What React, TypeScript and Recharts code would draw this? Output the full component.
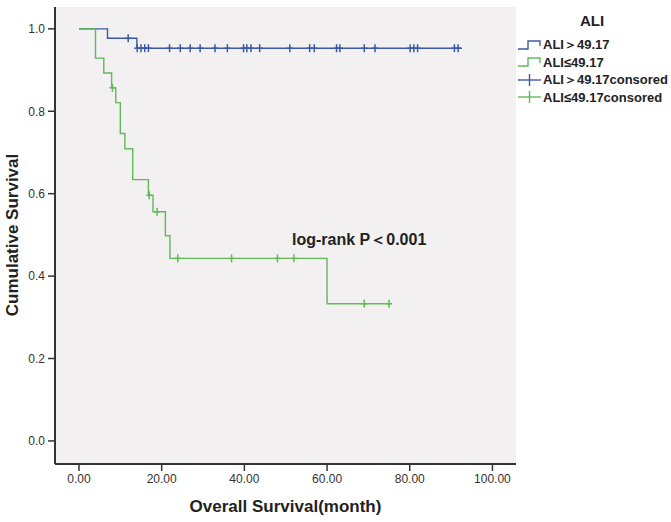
import React from 'react'
import {
  ComposedChart,
  Line,
  Scatter,
  XAxis,
  YAxis,
  CartesianGrid,
} from 'recharts'

// Kaplan-Meier steps (month, cumulative survival)
const highTimes = [0, 6.9, 14.0, 92.6]
const highSurv = [1.0, 0.977, 0.953, 0.953]
const highCensored = [
  11.9, 14.1, 15.0, 15.9, 16.8, 21.9, 24.5, 26.9, 29.3, 32.9, 35.9, 39.8, 40.6,
  41.6, 43.7, 51.0, 55.8, 56.9, 62.3, 63.1, 69.0, 71.6, 80.1, 81.0, 81.9, 90.8, 91.7,
]

const lowTimes = [0, 4.0, 6.0, 7.9, 8.9, 10.0, 11.1, 13.0, 16.8, 17.9, 20.9, 22.0, 60.0, 75.5]
const lowSurv = [1.0, 0.929, 0.893, 0.857, 0.821, 0.746, 0.709, 0.634, 0.596, 0.556, 0.498, 0.443, 0.333, 0.333]
const lowCensored = [8.1, 17.0, 18.9, 23.9, 36.9, 48.0, 52.0, 69.0, 75.0]

const xTicks = [0, 20, 40, 60, 80, 100]
const yTicks = [0, 0.2, 0.4, 0.6, 0.8, 1.0]

const legendLabels = ['ALI＞49.17', 'ALI≤49.17', 'ALI＞49.17consored', 'ALI≤49.17consored']

const BLUE = '#3b59a6'
const GREEN = '#62b95a'
const FRAME = '#333'
const FONT = '"Liberation Sans", Arial, sans-serif'

const toPoints = (times: number[], surv: number[]) =>
  times.map((t, i) => ({ t, s: surv[i] }))

// survival level in force at time t (used to sit censor ticks on the curve)
const levelAt = (times: number[], surv: number[], t: number) => {
  let s = surv[0]
  times.forEach((x, i) => {
    if (x <= t) s = surv[i]
  })
  return s
}

const highLine = toPoints(highTimes, highSurv)
const lowLine = toPoints(lowTimes, lowSurv)
const highMarks = highCensored.map((t) => ({ t, s: levelAt(highTimes, highSurv, t) }))
const lowMarks = lowCensored.map((t) => ({ t, s: levelAt(lowTimes, lowSurv, t) }))

const censorShape = (color: string) => (props: any) => {
  const { cx, cy } = props
  return (
    <g stroke={color} strokeWidth={1.5}>
      <line x1={cx} x2={cx} y1={cy - 4} y2={cy + 4} />
      <line x1={cx - 3} x2={cx + 3} y1={cy} y2={cy} />
    </g>
  )
}

const LegendIcon = ({ kind, color }: { kind: 'step' | 'plus'; color: string }) => (
  <svg width={25} height={14} style={{ display: 'block' }}>
    {kind === 'step' ? (
      <path d="M1,11 H11 V3 H23 V8" fill="none" stroke={color} strokeWidth={1.4} />
    ) : (
      <g stroke={color} strokeWidth={1.4}>
        <line x1={1} x2={24} y1={7} y2={7} />
        <line x1={12.5} x2={12.5} y1={1} y2={13} />
      </g>
    )}
  </svg>
)

export default function App() {
  const xDomain = [-5.8, 105.7]
  const yDomain = [-0.056, 1.053]
  const legendColors = [BLUE, GREEN, BLUE, GREEN]

  return (
    <div
      style={{
        position: 'absolute',
        left: 0,
        top: 0,
        width: 671,
        height: 522,
        background: '#fff',
        fontFamily: FONT,
      }}
    >
      <ComposedChart
        width={671}
        height={522}
        margin={{ top: 7, right: 155, bottom: 0, left: 0 }}
        style={{ fontFamily: FONT }}
      >
        <CartesianGrid horizontal={false} vertical={false} fill="#f2f0f1" />
        <XAxis
          type="number"
          dataKey="t"
          domain={xDomain}
          allowDataOverflow
          ticks={xTicks}
          tickFormatter={(v: number) => v.toFixed(2)}
          height={58}
          tickSize={7}
          tickMargin={3}
          axisLine={{ stroke: FRAME, strokeWidth: 2 }}
          tickLine={{ stroke: FRAME, strokeWidth: 1.5 }}
          tick={{ fill: '#333', fontSize: 12 }}
        />
        <XAxis
          xAxisId="top"
          orientation="top"
          type="number"
          domain={xDomain}
          allowDataOverflow
          height={0}
          tick={false}
          tickLine={false}
          axisLine={{ stroke: FRAME, strokeWidth: 2 }}
        />
        <YAxis
          type="number"
          dataKey="s"
          domain={yDomain}
          allowDataOverflow
          ticks={yTicks}
          tickFormatter={(v: number) => v.toFixed(1)}
          width={55}
          tickSize={7}
          tickMargin={3}
          axisLine={{ stroke: FRAME, strokeWidth: 2 }}
          tickLine={{ stroke: FRAME, strokeWidth: 1.5 }}
          tick={{ fill: '#333', fontSize: 12 }}
        />
        <YAxis
          yAxisId="right"
          orientation="right"
          type="number"
          domain={yDomain}
          allowDataOverflow
          width={0}
          tick={false}
          tickLine={false}
          axisLine={{ stroke: FRAME, strokeWidth: 2 }}
        />
        <Line
          data={highLine}
          dataKey="s"
          type="stepAfter"
          stroke={BLUE}
          strokeWidth={1.4}
          dot={false}
          isAnimationActive={false}
        />
        <Line
          data={lowLine}
          dataKey="s"
          type="stepAfter"
          stroke={GREEN}
          strokeWidth={1.4}
          dot={false}
          isAnimationActive={false}
        />
        <Scatter data={highMarks} dataKey="s" shape={censorShape(BLUE)} isAnimationActive={false} />
        <Scatter data={lowMarks} dataKey="s" shape={censorShape(GREEN)} isAnimationActive={false} />
      </ComposedChart>

      {/* axis titles */}
      <div
        style={{
          position: 'absolute',
          left: 55,
          width: 461,
          top: 497,
          textAlign: 'center',
          fontSize: 17,
          fontWeight: 'bold',
          color: '#222',
        }}
      >
        Overall Survival(month)
      </div>
      <div
        style={{
          position: 'absolute',
          left: 13,
          top: 235,
          transform: 'translate(-50%, -50%) rotate(-90deg)',
          whiteSpace: 'nowrap',
          fontSize: 17,
          fontWeight: 'bold',
          color: '#222',
        }}
      >
        Cumulative Survival
      </div>

      {/* annotation */}
      <div
        style={{
          position: 'absolute',
          left: 292,
          top: 230,
          whiteSpace: 'nowrap',
          fontSize: 16,
          fontWeight: 'bold',
          color: '#222',
        }}
      >
        log-rank P＜0.001
      </div>

      {/* legend */}
      <div
        style={{
          position: 'absolute',
          left: 580,
          top: 12,
          fontSize: 15,
          fontWeight: 'bold',
          color: '#222',
        }}
      >
        ALI
      </div>
      <div style={{ position: 'absolute', left: 517, top: 36 }}>
        {legendLabels.map((label, i) => (
          <div
            key={label}
            style={{ display: 'flex', alignItems: 'center', height: 17.5, whiteSpace: 'nowrap' }}
          >
            <LegendIcon kind={i < 2 ? 'step' : 'plus'} color={legendColors[i]} />
            <span style={{ fontSize: 13, fontWeight: 'bold', color: '#222', marginLeft: 1 }}>
              {label}
            </span>
          </div>
        ))}
      </div>
    </div>
  )
}
